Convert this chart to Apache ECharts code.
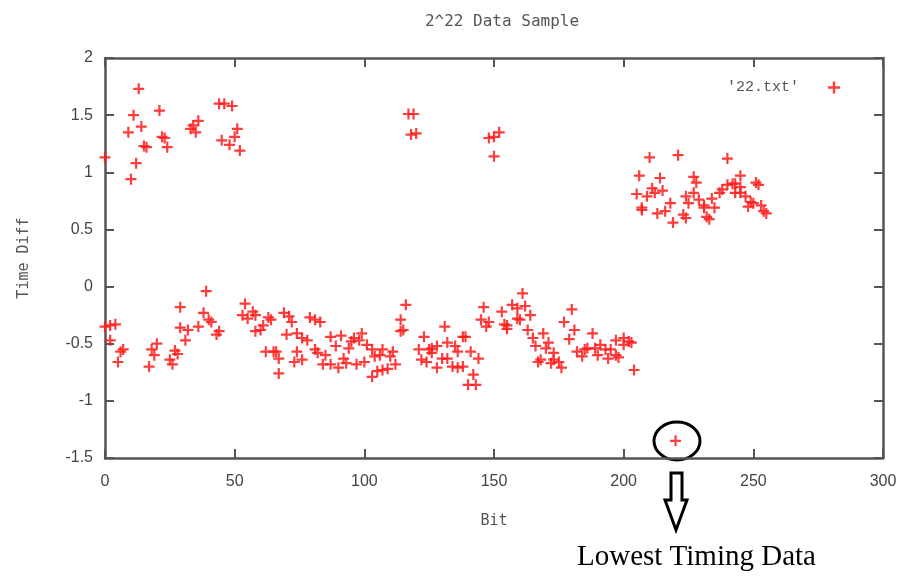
<!DOCTYPE html>
<html lang="en">
<head>
    <meta charset="UTF-8">
    <title>2^22 Data Sample</title>
    <script src="https://cdn.jsdelivr.net/npm/echarts@6/dist/echarts.min.js"></script>
    <style>
        html, body { margin: 0; padding: 0; background: #fff; }
        #container { width: 907px; height: 578px; }
    </style>
</head>
<body>

<div id="container"></div>
<script type="text/javascript">
    // [bit, time diff] pairs, grouped by band
    var upperEarly = [[0,1.13],[9,1.35],[10,0.94],[11,1.50],[12,1.08],[13,1.73],[14,1.40],[15,1.23],[16,1.22],
        [21,1.54],[22,1.31],[23,1.30],[24,1.22],[33,1.38],[34,1.41],[35,1.35],[36,1.45],[44,1.60],[45,1.28],
        [46,1.60],[48,1.24],[49,1.58],[50,1.31],[51,1.38],[52,1.19]];
    var upperMid = [[117,1.51],[119,1.51],[118,1.33],[120,1.34],[148,1.30],[150,1.31],[152,1.35],[150,1.14]];
    var lowerEarly = [[0,-0.35],[2,-0.34],[4,-0.33],[2,-0.47],[5,-0.66],[6,-0.57],[7,-0.55],[17,-0.70],[18,-0.55],
        [19,-0.60],[20,-0.50],[25,-0.64],[26,-0.68],[27,-0.56],[28,-0.59],[29,-0.18],[29,-0.36],[31,-0.47],
        [32,-0.38],[36,-0.35],[38,-0.23],[39,-0.04],[40,-0.29],[41,-0.31],[43,-0.42],[44,-0.39],[53,-0.25],
        [54,-0.15],[55,-0.28],[57,-0.22],[58,-0.39],[58,-0.25],[60,-0.38],[61,-0.34],[62,-0.57],[63,-0.27]];
    var lowerMid = [[64,-0.29],[65,-0.57],[66,-0.57],[67,-0.63],[67,-0.76],[69,-0.23],[70,-0.42],[71,-0.26],
        [72,-0.31],[73,-0.66],[74,-0.57],[74,-0.41],[76,-0.64],[76,-0.45],[78,-0.47],[79,-0.27],[81,-0.29],
        [81,-0.55],[82,-0.58],[83,-0.31],[84,-0.68],[85,-0.60],[87,-0.44],[87,-0.68],[89,-0.52],[90,-0.71],
        [91,-0.43],[92,-0.63],[93,-0.67],[94,-0.54],[95,-0.48],[96,-0.45],[97,-0.68],[98,-0.47],[99,-0.41],
        [100,-0.66],[101,-0.51],[103,-0.55],[103,-0.79],[104,-0.61],[105,-0.74],[106,-0.60],[107,-0.55],
        [107,-0.73],[109,-0.72],[110,-0.61],[111,-0.57],[112,-0.68],[114,-0.39],[114,-0.29],[115,-0.38],
        [116,-0.16],[121,-0.55],[122,-0.64],[123,-0.44],[124,-0.66],[125,-0.55],[126,-0.58],[126,-0.54],
        [128,-0.52],[128,-0.71],[130,-0.63],[131,-0.35],[132,-0.49],[132,-0.63],[134,-0.70],[135,-0.52],
        [136,-0.57],[136,-0.71],[138,-0.44],[138,-0.70],[139,-0.44]];
    var lowerLate = [[140,-0.86],[141,-0.57],[142,-0.77],[143,-0.86],[144,-0.63],[145,-0.29],[146,-0.18],
        [147,-0.35],[148,-0.31],[153,-0.22],[154,-0.33],[155,-0.37],[155,-0.34],[157,-0.16],[159,-0.19],
        [159,-0.28],[160,-0.29],[161,-0.06],[162,-0.17],[163,-0.38],[164,-0.25],[165,-0.45],[166,-0.52],
        [167,-0.66],[168,-0.64],[169,-0.41],[170,-0.54],[171,-0.49],[172,-0.67],[173,-0.58],[173,-0.64],
        [175,-0.66],[176,-0.71],[177,-0.31],[179,-0.46],[180,-0.20],[181,-0.38],[182,-0.57],[184,-0.61],
        [185,-0.55],[186,-0.54],[188,-0.41],[189,-0.54],[190,-0.60],[191,-0.51],[193,-0.55],[194,-0.63],
        [195,-0.55],[197,-0.47],[197,-0.60],[198,-0.62],[200,-0.51],[200,-0.45],[202,-0.48],[203,-0.49],
        [204,-0.73]];
    var lowest = [[220,-1.35]];
    var upperLate = [[205,0.81],[206,0.97],[207,0.69],[207,0.67],[209,0.79],[210,1.13],[211,0.86],[212,0.82],
        [213,0.64],[214,0.95],[215,0.84],[216,0.66],[218,0.73],[219,0.56],[221,1.15],[223,0.63],[224,0.79],
        [224,0.60],[225,0.73],[227,0.96],[227,0.82],[228,0.91],[229,0.76],[231,0.71],[231,0.69],[232,0.61],
        [233,0.59],[234,0.77],[235,0.69],[237,0.82],[238,0.85],[240,1.12],[240,0.89],[242,0.90],[243,0.90],
        [243,0.82],[245,0.87],[245,0.97],[245,0.82],[247,0.79],[248,0.70],[249,0.74],[250,0.73],[251,0.91],
        [252,0.89],[253,0.71],[254,0.66],[255,0.64]];

    var points = [].concat(upperEarly, upperMid, lowerEarly, lowerMid, lowerLate, lowest, upperLate);

    var plus = 'path://M4,0h2v4h4v2h-4v4h-2v-4h-4v-2h4z';
    var frame = '#555';
    var labelFont = { color: '#444', fontFamily: 'Liberation Sans', fontSize: 16 };

    function axisCommon(extra) {
        var a = {
            axisLine: { show: true, onZero: false, lineStyle: { color: frame, width: 2.5 } },
            axisTick: { show: true, inside: true, length: 9, lineStyle: { color: frame, width: 2 } },
            splitLine: { show: false }
        };
        for (var k in extra) a[k] = extra[k];
        return a;
    }

    var myChart = echarts.init(document.getElementById('container'));
    var option = {
        backgroundColor: '#fff',
        animation: false,
        title: {
            text: '2^22 Data Sample',
            left: 497,
            textAlign: 'center',
            top: 9,
            textStyle: { color: '#555', fontFamily: 'DejaVu Sans Mono', fontSize: 16, fontWeight: 'normal' }
        },
        legend: {
            right: 62,
            top: 75,
            align: 'right',
            itemWidth: 60,
            itemHeight: 12,
            symbolKeepAspect: true,
            icon: plus,
            data: ["'22.txt'"],
            textStyle: { color: '#555', fontFamily: 'Liberation Mono', fontSize: 15 }
        },
        grid: { left: 105, right: 24, top: 58, bottom: 120 },
        xAxis: [
            axisCommon({
                type: 'value', min: 0, max: 300, interval: 50, position: 'bottom',
                name: 'Bit', nameLocation: 'middle', nameGap: 56,
                nameTextStyle: { color: '#555', fontFamily: 'DejaVu Sans Mono', fontSize: 15 },
                axisLabel: Object.assign({ margin: 16 }, labelFont)
            }),
            axisCommon({
                type: 'value', min: 0, max: 300, interval: 50, position: 'top',
                axisLabel: { show: false }
            })
        ],
        yAxis: [
            axisCommon({
                type: 'value', min: -1.5, max: 2, interval: 0.5, position: 'left',
                name: 'Time Diff', nameLocation: 'middle', nameGap: 73,
                nameTextStyle: { color: '#555', fontFamily: 'DejaVu Sans Mono', fontSize: 15 },
                axisLabel: Object.assign({ margin: 12 }, labelFont)
            }),
            axisCommon({
                type: 'value', min: -1.5, max: 2, interval: 0.5, position: 'right',
                axisLabel: { show: false }
            })
        ],
        series: [{
            name: "'22.txt'",
            type: 'scatter',
            xAxisIndex: 0,
            yAxisIndex: 0,
            symbol: plus,
            symbolSize: 11,
            itemStyle: { color: '#ff1a1a', opacity: 0.85 },
            data: points
        }],
        graphic: [
            {
                type: 'ellipse',
                shape: { cx: 677, cy: 441, rx: 23, ry: 19 },
                style: { fill: 'none', stroke: '#000', lineWidth: 3 }
            },
            {
                type: 'polygon',
                shape: { points: [[671, 473], [682, 473], [682, 500], [687, 500], [676, 530], [665, 500], [671, 500]] },
                style: { fill: '#fff', stroke: '#000', lineWidth: 3 }
            },
            {
                type: 'text',
                left: 577,
                top: 543,
                style: { text: 'Lowest Timing Data', fill: '#000', font: '29px "Liberation Serif"' }
            }
        ]
    };
    myChart.setOption(option);
</script>
</body>
</html>
